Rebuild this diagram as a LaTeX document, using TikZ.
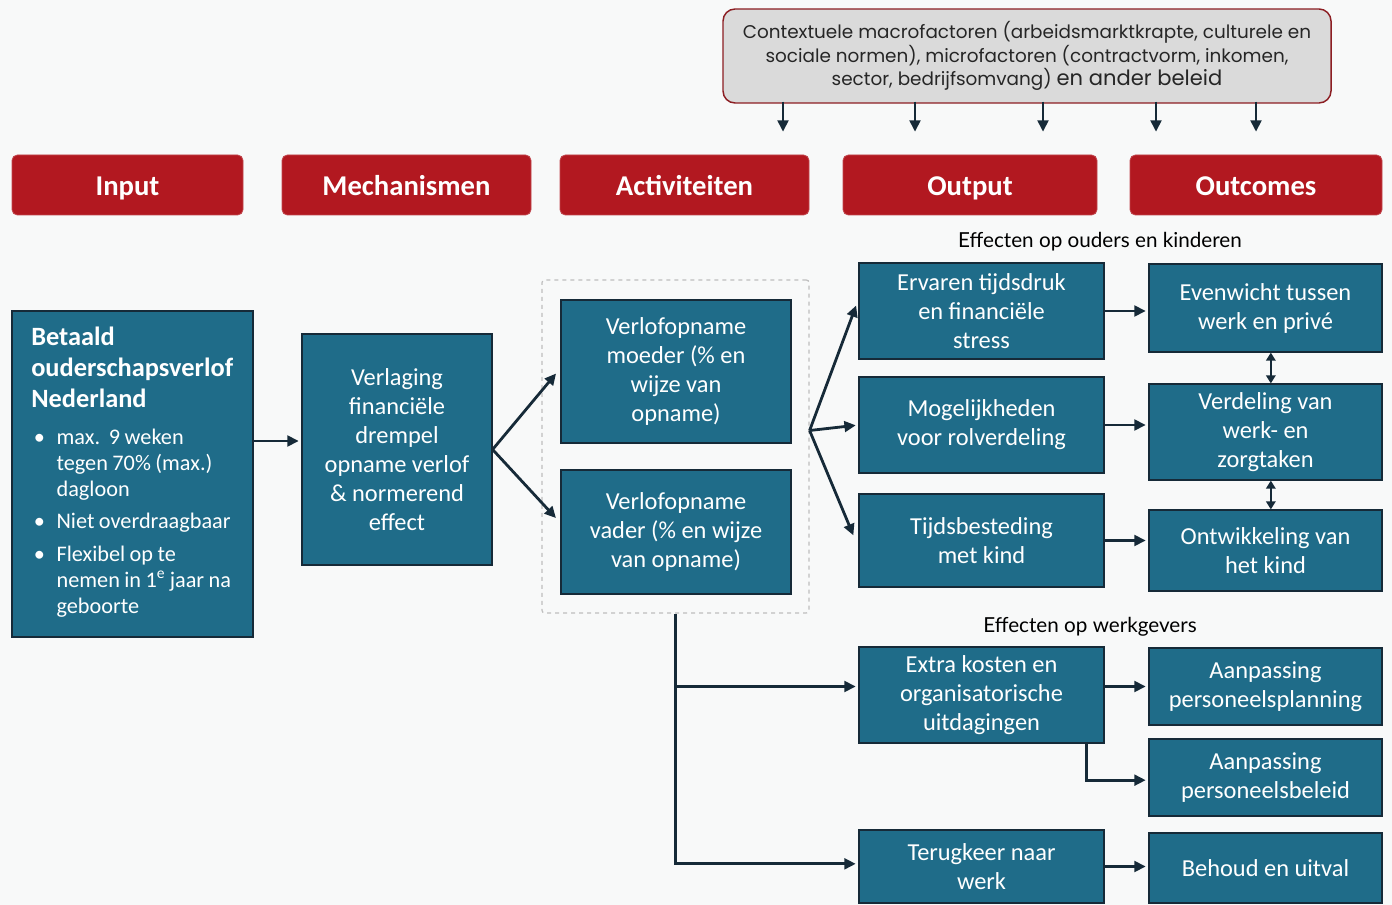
\documentclass[tikz,border=0pt]{standalone}
\usepackage{fontspec}
\setmainfont{Carlito}
\newfontfamily\ctxfont{Poppins}
\newfontfamily\labfont{Lato}
\usetikzlibrary{arrows.meta}
\definecolor{bg}{RGB}{248,249,249}
\definecolor{tealbox}{RGB}{31,108,137}
\definecolor{redh}{RGB}{178,24,32}
\definecolor{navy}{RGB}{22,42,56}
\definecolor{ctxfill}{RGB}{218,218,218}
\definecolor{ctxline}{RGB}{140,30,35}
\definecolor{dashgray}{RGB}{190,190,190}
\newcommand\bulitem[1]{\makebox[19pt][l]{\hspace{2pt}•}\parbox[t]{150pt}{#1}}
\begin{document}
\begin{tikzpicture}[x=0.75pt,y=-0.75pt,
  wh/.style 2 args={minimum width=#1*0.75pt, minimum height=#2*0.75pt},
  box/.style={draw=navy, line width=0.9pt, fill=tealbox, text=white, align=center, inner sep=0pt, font=\fontsize{18.3}{21.75}\selectfont},
  hdr/.style={fill=redh, draw=redh!80!white, line width=0.6pt, rounded corners=4pt, text=white, inner sep=0pt, text height=20pt, text depth=3.5pt, font=\bfseries\fontsize{21.5}{25}\selectfont},
  arr/.style={draw=navy, line width=2.1pt, -{Triangle[length=8.5pt,width=8pt]}, shorten >=2pt},
  dbl/.style={draw=navy, line width=1.6pt, {Triangle[length=6pt,width=7pt]}-{Triangle[length=6pt,width=7pt]}},
  lab/.style={font=\labfont\fontsize{15.5}{18}\selectfont, text=black, inner sep=0pt},
]
\fill[bg] (0,0) rectangle (1392,905);
\useasboundingbox (0,0) rectangle (1392,905);

% context box
\node[wh={608}{94}, draw=ctxline, line width=1.1pt, fill=ctxfill, rounded corners=9pt, align=center, inner sep=0pt,
      font=\ctxfont\fontsize{13.8}{17.6}\selectfont, text=black!85] (ctx) at (1027,56)
  {Contextuele macrofactoren (arbeidsmarktkrapte, culturele en\\
   sociale normen), microfactoren (contractvorm, inkomen,\\
   sector, bedrijfsomvang) {\fontsize{15.8}{17.6}\selectfont en ander beleid}};
\foreach \x in {783,915,1043,1156,1256}
  \draw[arr, shorten >=0pt] (ctx.south -| \x,0) ++(0,-2) -- ++(0,30);

% headers
\node[hdr, wh={231}{60}] (hin)  at (127.5,185) {Input};
\node[hdr, wh={249}{60}] (hmec) at (406.5,185) {Mechanismen};
\node[hdr, wh={249}{60}] (hact) at (684.5,185) {Activiteiten};
\node[hdr, wh={254}{60}] (hout) at (970,185) {Output};
\node[hdr, wh={252}{60}] (houc) at (1256,185) {Outcomes};

% labels
\node[lab] (effo) at (1100,242) {Effecten op ouders en kinderen};
\node[lab] (effw) at (1090,627) {Effecten op werkgevers};

% input box
\node[box, wh={241}{326}] (left) at (132.5,474) {};
\node[anchor=north west, text=white, align=left, inner sep=0pt, text width=218*0.75pt] (lefttxt) at (31,327) {%
  {\bfseries\fontsize{19.8}{23.25}\selectfont Betaald\\ouderschapsverlof\\Nederland\par}
  \vspace{8pt}
  {\fontsize{16.7}{19.5}\selectfont
  \bulitem{max.~~9 weken\\tegen 70\% (max.)\\dagloon}\par\vspace{8.5pt}
  \bulitem{Niet overdraagbaar}\par\vspace{5pt}
  \bulitem{Flexibel op te\\nemen in 1\textsuperscript{e} jaar na\\geboorte}\par}
};

% mechanism
\node[box, wh={190}{231}] (mech) at (397,449.5)
  {Verlaging\\financiële\\drempel\\opname verlof\\\& normerend\\effect};

% activities
\node[draw=dashgray, dashed, line width=0.9pt, rounded corners=2pt, wh={267}{333}, inner sep=0pt] (act) at (675.5,446.5) {};
\node[box, wh={230}{143}] (moeder) at (676,371.5) {Verlofopname\\moeder (\% en\\wijze van\\opname)};
\node[box, wh={230}{124}] (vader) at (676,532) {Verlofopname\\vader (\% en wijze\\van opname)};

% output
\node[box, wh={245}{96}] (ervaren) at (981.5,311) {Ervaren tijdsdruk\\en financiële\\stress};
\node[box, wh={245}{96}] (mogel) at (981.5,425) {Mogelijkheden\\voor rolverdeling};
\node[box, wh={245}{93}] (tijd) at (981.5,540.5) {Tijdsbesteding\\met kind};
\node[box, wh={245}{96}] (extra) at (981.5,695) {Extra kosten en\\organisatorische\\uitdagingen};
\node[box, wh={245}{73}] (terug) at (981.5,866.5) {Terugkeer naar\\werk};

% outcomes
\node[box, wh={233}{88}] (even) at (1265.5,308) {Evenwicht tussen\\werk en privé};
\node[box, wh={233}{96}] (verd) at (1265.5,432) {Verdeling van\\werk- en\\zorgtaken};
\node[box, wh={233}{81}] (ontw) at (1265.5,550.5) {Ontwikkeling van\\het kind};
\node[box, wh={233}{77}] (plan) at (1265.5,686.5) {Aanpassing\\personeelsplanning};
\node[box, wh={233}{77}] (beleid) at (1265.5,777.5) {Aanpassing\\personeelsbeleid};
\node[box, wh={233}{70}] (behoud) at (1265.5,868) {Behoud en uitval};

% connectors
\draw[arr] (left.east |- 0,441) -- (mech.west |- 0,441);
\draw[arr] (mech.east) -- ([xshift=-2pt]moeder.west);
\draw[arr] (mech.east) -- ([xshift=-2pt,yshift=9pt]vader.west);

\coordinate (fo) at ([yshift=12pt]act.east);
\draw[arr] (fo) -- ([xshift=-1pt,yshift=6pt]ervaren.west);
\draw[arr] (fo) -- (mogel.west);
\draw[arr] (fo) -- ([xshift=-3pt,yshift=2pt]tijd.west);

\draw[arr] (ervaren.east) -- (ervaren.east -| even.west);
\draw[arr] (mogel.east) -- (mogel.east -| verd.west);
\draw[arr] (tijd.east) -- (tijd.east -| ontw.west);
\draw[dbl] ([xshift=4pt]even.south) -- ([xshift=4pt]verd.north);
\draw[dbl] ([xshift=4pt]verd.south) -- ([xshift=4pt]ontw.north);

\draw[arr] (act.south) |- ([yshift=2pt]terug.west);
\draw[arr] (act.south |- plan.west) -- (extra.west |- plan.west);
\draw[arr] (extra.east |- plan.west) -- (plan.west);
\draw[arr] ([xshift=-13.5pt]extra.south east) |- ([yshift=-2pt]beleid.west);
\draw[arr] (terug.east) -- (terug.east -| behoud.west);
\end{tikzpicture}
\end{document}
